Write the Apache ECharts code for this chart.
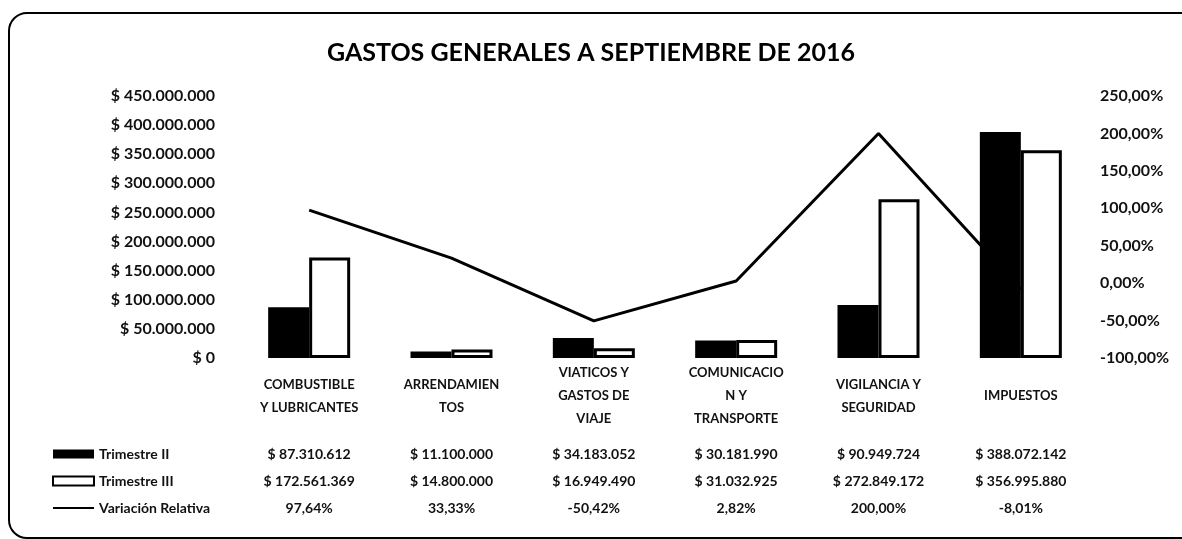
<!DOCTYPE html>
<html>
<head>
<meta charset="utf-8">
<title>Gastos generales</title>
<script src="https://cdn.jsdelivr.net/npm/echarts@6/dist/echarts.min.js"></script>
<style>
  html, body { margin: 0; padding: 0; background: #fff; }
  #chart { width: 1182px; height: 539px; }
</style>
</head>
<body>
<div id="chart"></div>
<script>
const categories = [
  'COMBUSTIBLE\nY LUBRICANTES',
  'ARRENDAMIEN\nTOS',
  'VIATICOS Y\nGASTOS DE\nVIAJE',
  'COMUNICACIO\nN Y\nTRANSPORTE',
  'VIGILANCIA Y\nSEGURIDAD',
  'IMPUESTOS'
];
const trimestreII = [87310612, 11100000, 34183052, 30181990, 90949724, 388072142];
const trimestreIII = [172561369, 14800000, 16949490, 31032925, 272849172, 356995880];
const variacion = [97.64, 33.33, -50.42, 2.82, 200.00, -8.01];

const FONT = 'Lato';

function pesos(v) {
  return '$ ' + Math.round(v).toString().replace(/\B(?=(\d{3})+(?!\d))/g, '.');
}
function pct(v) {
  return v.toFixed(2).replace('.', ',') + '%';
}

// one hidden category axis per table row, only its labels are shown
function tableAxis(offset, values, fmt) {
  return {
    type: 'category',
    data: categories,
    position: 'bottom',
    offset: offset,
    axisLine: { show: false },
    axisTick: { show: false },
    axisLabel: {
      margin: 0,
      verticalAlign: 'middle',
      fontFamily: FONT,
      fontWeight: 'bold',
      fontSize: 14,
      color: '#111',
      formatter: (val, idx) => fmt(values[idx])
    }
  };
}

const chart = echarts.init(document.getElementById('chart'));

chart.setOption({
  animation: false,
  backgroundColor: '#fff',
  title: {
    text: 'GASTOS GENERALES A SEPTIEMBRE DE 2016',
    left: 'center',
    top: 35,
    textStyle: { fontFamily: FONT, fontWeight: 'bold', fontSize: 25, color: '#000' }
  },
  grid: { left: 238, right: 90, top: 96, height: 262 },
  legend: {
    orient: 'vertical',
    left: 52,
    top: 447,
    padding: 0,
    itemWidth: 41,
    itemHeight: 9,
    itemGap: 13,
    textStyle: { fontFamily: FONT, fontWeight: 'bold', fontSize: 14, color: '#111', lineHeight: 14 },
    data: [
      { name: 'Trimestre II', icon: 'rect' },
      { name: 'Trimestre III', icon: 'rect' },
      { name: 'Variación Relativa', itemStyle: { opacity: 0 } }
    ]
  },
  xAxis: [
    {
      type: 'category',
      data: categories,
      axisLine: { show: false },
      axisTick: { show: false },
      axisLabel: {
        margin: 38,
        verticalAlign: 'middle',
        lineHeight: 23,
        fontFamily: FONT,
        fontWeight: 'bold',
        fontSize: 13,
        color: '#111'
      }
    },
    tableAxis(96, trimestreII, pesos),
    tableAxis(123, trimestreIII, pesos),
    tableAxis(150, variacion, pct)
  ],
  yAxis: [
    {
      type: 'value',
      min: 0,
      max: 450000000,
      interval: 50000000,
      splitLine: { show: false },
      axisLine: { show: false },
      axisTick: { show: false },
      axisLabel: {
        margin: 23,
        fontFamily: FONT,
        fontWeight: 'bold',
        fontSize: 16,
        color: '#111',
        formatter: pesos
      }
    },
    {
      type: 'value',
      min: -100,
      max: 250,
      interval: 50,
      splitLine: { show: false },
      axisLine: { show: false },
      axisTick: { show: false },
      axisLabel: {
        margin: 8,
        fontFamily: FONT,
        fontWeight: 'bold',
        fontSize: 16,
        color: '#111',
        formatter: pct
      }
    }
  ],
  series: [
    {
      name: 'Trimestre II',
      type: 'bar',
      data: trimestreII,
      barWidth: 41,
      barGap: '0%',
      itemStyle: { color: '#000' }
    },
    {
      name: 'Trimestre III',
      type: 'bar',
      data: trimestreIII,
      barWidth: 41,
      itemStyle: { color: '#fff', borderColor: '#000', borderWidth: 3 }
    },
    {
      name: 'Variación Relativa',
      type: 'line',
      yAxisIndex: 1,
      data: variacion,
      symbol: 'none',
      z: 5,
      lineStyle: { color: '#000', width: 3 },
      itemStyle: { color: '#000' }
    }
  ],
  graphic: [
    {
      type: 'rect',
      silent: true,
      shape: { x: 9, y: 13, width: 1200, height: 525, r: 18 },
      style: { fill: 'none', stroke: '#000', lineWidth: 2 }
    }
  ]
});
</script>
</body>
</html>
